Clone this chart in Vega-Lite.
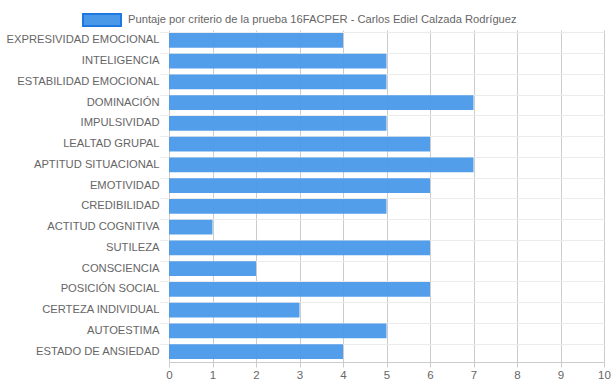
{
  "$schema": "https://vega.github.io/schema/vega-lite/v6.json",
  "width": 435,
  "height": 332,
  "autosize": {"type": "none"},
  "padding": {"left": 169, "top": 30, "right": 9, "bottom": 26},
  "background": "white",
  "config": {
    "view": {"stroke": null},
    "font": "Liberation Sans"
  },
  "data": {
    "values": [
      {"criterio": "EXPRESIVIDAD EMOCIONAL", "puntaje": 4, "serie": "Puntaje por criterio de la prueba 16FACPER - Carlos Ediel Calzada Rodríguez"},
      {"criterio": "INTELIGENCIA", "puntaje": 5, "serie": "Puntaje por criterio de la prueba 16FACPER - Carlos Ediel Calzada Rodríguez"},
      {"criterio": "ESTABILIDAD EMOCIONAL", "puntaje": 5, "serie": "Puntaje por criterio de la prueba 16FACPER - Carlos Ediel Calzada Rodríguez"},
      {"criterio": "DOMINACIÓN", "puntaje": 7, "serie": "Puntaje por criterio de la prueba 16FACPER - Carlos Ediel Calzada Rodríguez"},
      {"criterio": "IMPULSIVIDAD", "puntaje": 5, "serie": "Puntaje por criterio de la prueba 16FACPER - Carlos Ediel Calzada Rodríguez"},
      {"criterio": "LEALTAD GRUPAL", "puntaje": 6, "serie": "Puntaje por criterio de la prueba 16FACPER - Carlos Ediel Calzada Rodríguez"},
      {"criterio": "APTITUD SITUACIONAL", "puntaje": 7, "serie": "Puntaje por criterio de la prueba 16FACPER - Carlos Ediel Calzada Rodríguez"},
      {"criterio": "EMOTIVIDAD", "puntaje": 6, "serie": "Puntaje por criterio de la prueba 16FACPER - Carlos Ediel Calzada Rodríguez"},
      {"criterio": "CREDIBILIDAD", "puntaje": 5, "serie": "Puntaje por criterio de la prueba 16FACPER - Carlos Ediel Calzada Rodríguez"},
      {"criterio": "ACTITUD COGNITIVA", "puntaje": 1, "serie": "Puntaje por criterio de la prueba 16FACPER - Carlos Ediel Calzada Rodríguez"},
      {"criterio": "SUTILEZA", "puntaje": 6, "serie": "Puntaje por criterio de la prueba 16FACPER - Carlos Ediel Calzada Rodríguez"},
      {"criterio": "CONSCIENCIA", "puntaje": 2, "serie": "Puntaje por criterio de la prueba 16FACPER - Carlos Ediel Calzada Rodríguez"},
      {"criterio": "POSICIÓN SOCIAL", "puntaje": 6, "serie": "Puntaje por criterio de la prueba 16FACPER - Carlos Ediel Calzada Rodríguez"},
      {"criterio": "CERTEZA INDIVIDUAL", "puntaje": 3, "serie": "Puntaje por criterio de la prueba 16FACPER - Carlos Ediel Calzada Rodríguez"},
      {"criterio": "AUTOESTIMA", "puntaje": 5, "serie": "Puntaje por criterio de la prueba 16FACPER - Carlos Ediel Calzada Rodríguez"},
      {"criterio": "ESTADO DE ANSIEDAD", "puntaje": 4, "serie": "Puntaje por criterio de la prueba 16FACPER - Carlos Ediel Calzada Rodríguez"}
    ]
  },
  "mark": {"type": "bar", "opacity": 0.95},
  "encoding": {
    "y": {
      "field": "criterio",
      "type": "nominal",
      "sort": null,
      "title": null,
      "scale": {"paddingInner": 0.28, "paddingOuter": 0.14},
      "axis": {
        "bandPosition": 0,
        "labelOffset": 0,
        "grid": true,
        "gridColor": "#ebebeb",
        "gridWidth": 1,
        "domain": false,
        "ticks": true,
        "tickColor": "#ebebeb",
        "tickSize": 9,
        "labelPadding": 1,
        "labelFont": "Liberation Sans",
        "labelFontSize": 11.2,
        "labelColor": "#666666",
        "labelLimit": 200
      }
    },
    "x": {
      "field": "puntaje",
      "type": "quantitative",
      "title": null,
      "scale": {"domain": [0, 10], "nice": false},
      "axis": {
        "values": [0, 1, 2, 3, 4, 5, 6, 7, 8, 9, 10],
        "grid": true,
        "gridColor": "#cccccc",
        "gridWidth": 1,
        "domain": true,
        "domainColor": "#cccccc",
        "ticks": true,
        "tickColor": "#cccccc",
        "tickSize": 5,
        "labelPadding": 2,
        "labelFont": "Liberation Sans",
        "labelFontSize": 11.5,
        "labelColor": "#666666",
        "labelFlush": false
      }
    },
    "color": {
      "field": "serie",
      "type": "nominal",
      "scale": {"range": ["#4a99e9"]},
      "legend": {
        "title": null,
        "orient": "none",
        "legendX": -80,
        "legendY": -23,
        "symbolType": "M-1.583,-0.5H1.583V0.5H-1.583Z",
        "symbolSize": 576,
        "symbolStrokeColor": "#1f78e0",
        "symbolStrokeWidth": 2,
        "symbolOpacity": 1,
        "labelFont": "Liberation Sans",
        "labelFontSize": 11.2,
        "labelColor": "#666666",
        "labelLimit": 500,
        "labelOffset": 13,
        "padding": 0
      }
    }
  }
}
